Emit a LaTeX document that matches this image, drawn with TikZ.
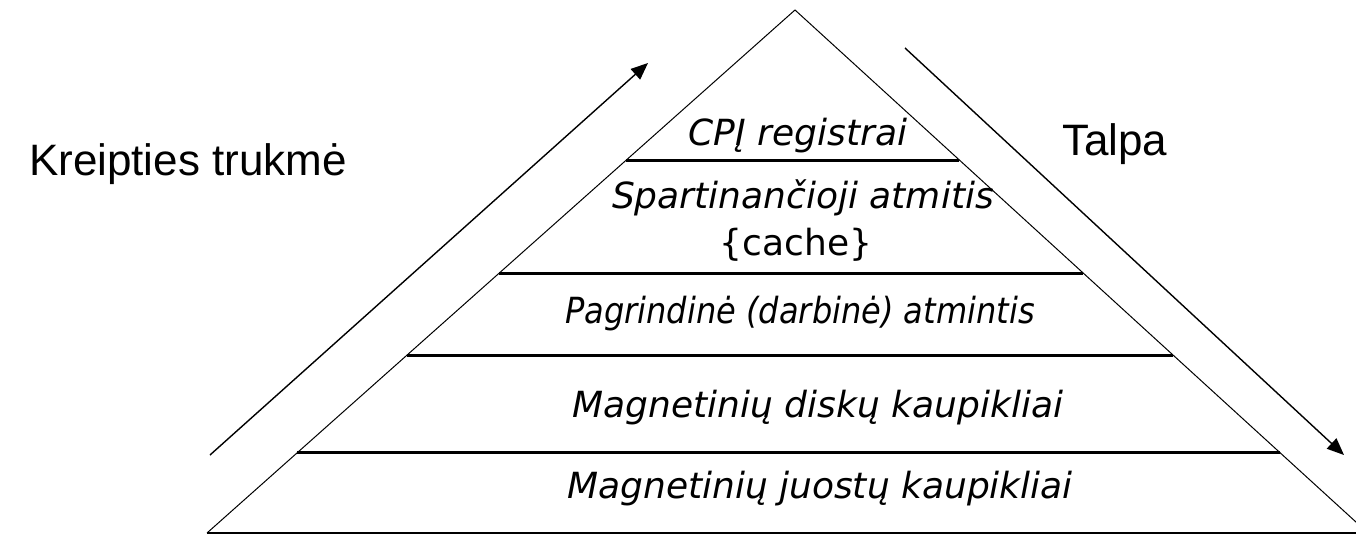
\documentclass[tikz,border=0pt]{standalone}
\usepackage{fontspec}
\setmainfont{Liberation Sans}
\newfontfamily\layerfont{DejaVu Sans}
\usetikzlibrary{arrows.meta,calc}
\tikzset{
  edge/.style={line width=1pt},
  divider/.style={line width=3pt},
  baseline rule/.style={line width=2pt},
  trend/.style={line width=1.4pt,-{Triangle[length=17pt,width=14pt]}},
  layer/.style={font=\layerfont\itshape\fontsize{36}{40}\selectfont,anchor=base,inner sep=0pt},
  side/.style={font=\fontsize{44}{50}\selectfont,anchor=base,inner sep=0pt}
}
\begin{document}
\begin{tikzpicture}[x=1pt,y=-1pt]
\useasboundingbox (0,0) rectangle (1356,535);
\clip (0,0) rectangle (1356,535);
% pyramid outline
\coordinate (apex) at (795,10);
\coordinate (bl) at (207,533);
\coordinate (br) at (1368,533);
\draw[edge] (bl) -- (apex) -- (br);
\draw[baseline rule] (bl) -- (br);
% layer dividers
\foreach \t/\n in {0.287/a,0.503/b,0.660/c,0.847/d}{
  \coordinate (l\n) at ($(apex)!\t!(bl)$);
  \coordinate (r\n) at ($(apex)!\t!(br)$);
  \draw[divider] (l\n) -- (r\n);
}
% layer labels
\node[layer] (cpu) at (798,145) {CPĮ registrai};
\node[layer] (cache1) at (803,208) {Spartinančioji atmitis};
\node[layer,font=\layerfont\fontsize{36}{40}\selectfont] (cache2) at (796,255) {\{cache\}};
\node[layer,xscale=0.89] (ram) at (800,323) {Pagrindinė (darbinė) atmintis};
\node[layer] (disk) at (818,417) {Magnetinių diskų kaupikliai};
\node[layer] (tape) at (820,498) {Magnetinių juostų kaupikliai};
% side arrows and captions
\coordinate (upstart) at (210,455);
\coordinate (upend) at (648,63);
\draw[trend] (upstart) -- (upend);
\coordinate (downstart) at (905,48);
\coordinate (downend) at (1344,455);
\draw[trend] (downstart) -- (downend);
\node[side] (access) at (188,175) {Kreipties trukmė};
\node[side,anchor=base west] (capacity) at (1062,155) {Talpa};
\end{tikzpicture}
\end{document}
